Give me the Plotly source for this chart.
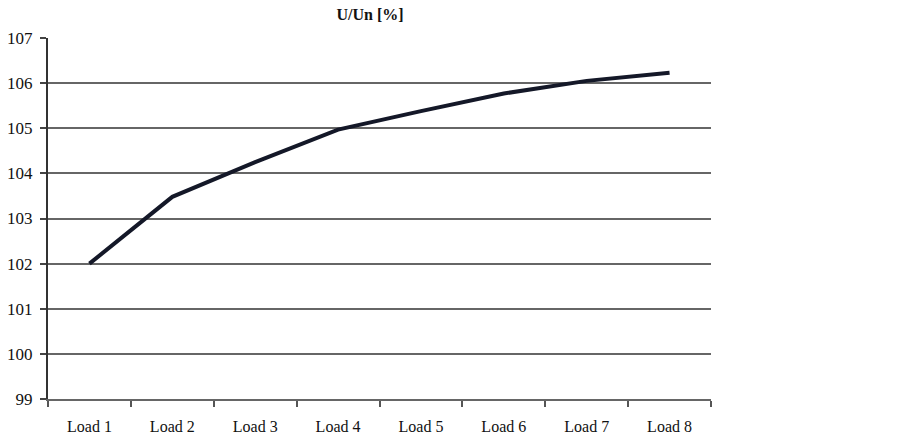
import plotly.graph_objects as go

loads = ["Load 1", "Load 2", "Load 3", "Load 4", "Load 5", "Load 6", "Load 7", "Load 8"]
u_un = [102.0, 103.48, 104.25, 104.97, 105.38, 105.77, 106.05, 106.23]
y_ticks = [99, 100, 101, 102, 103, 104, 105, 106, 107]

serif = "Liberation Serif, Times New Roman, serif"

fig = go.Figure()
fig.add_trace(go.Scatter(
    x=loads, y=u_un,
    mode="lines",
    line=dict(color="#141828", width=4),
    showlegend=False,
))

fig.update_xaxes(
    type="category",
    tickson="boundaries",
    ticks="outside", ticklen=6, tickwidth=2, tickcolor="#555",
    showline=True, linecolor="#666", linewidth=2,
    showgrid=False,
    tickfont=dict(family=serif, size=16, color="#111"),
    ticklabelstandoff=12,
    range=[-0.5, 7.5],
    automargin=False,
)
fig.update_yaxes(
    range=[99, 107],
    tickvals=y_ticks,
    ticks="outside", ticklen=6, tickwidth=2, tickcolor="#444",
    showline=True, linecolor="#333", linewidth=2,
    showgrid=True, gridcolor="#666", gridwidth=2,
    zeroline=False,
    tickfont=dict(family=serif, size=17, color="#111"),
    ticklabelstandoff=4,
    automargin=False,
)

fig.update_layout(
    width=902, height=443,
    margin=dict(l=48, r=191, t=38, b=44),
    plot_bgcolor="white", paper_bgcolor="white",
    title=dict(
        text="<b>U/Un [%]</b>",
        x=370 / 902, xanchor="center",
        y=1 - 14 / 443, yanchor="middle",
        font=dict(family=serif, size=16, color="#111"),
        automargin=False,
    ),
)

# drop the page's default body margin so the figure sits at the window's corner
fig.write_html(
    "out.html",
    config={"displayModeBar": False},
    post_script="document.body.style.margin = '0';",
)
